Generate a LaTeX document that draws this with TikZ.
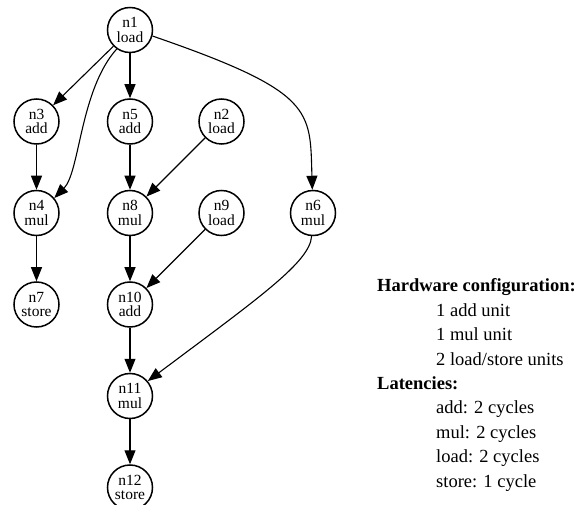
\documentclass[tikz,border=0pt]{standalone}
\usepackage{fontspec}
\setmainfont{Liberation Serif}
\usetikzlibrary{arrows.meta,positioning}

\begin{document}
\begin{tikzpicture}[
  x=1pt, y=-1pt,
  node distance=45pt and 45pt,
  op/.style={circle, draw, line width=1.5pt, minimum size=45pt, inner sep=0pt,
    align=center, font=\fontsize{15.5}{14.5}\selectfont},
  arr/.style={-{Triangle[length=14pt,width=11pt]}, line width=1.1pt},
  info/.style={align=left, anchor=base west, inner sep=0pt,
    font=\fontsize{18.5}{24.4}\selectfont}
]
\useasboundingbox (0,0) rectangle (584,505);
\node[op] (n1) at (130,30) {n1\\load};
\node[op, below=of n1] (n5) {n5\\add};
\node[op, left=47pt of n5] (n3) {n3\\add};
\node[op, right=of n5] (n2) {n2\\load};
\node[op, below=of n3] (n4) {n4\\mul};
\node[op, below=of n5] (n8) {n8\\mul};
\node[op, below=of n2] (n9) {n9\\load};
\node[op, right=of n9] (n6) {n6\\mul};
\node[op, below=of n4] (n7) {n7\\store};
\node[op, below=of n8] (n10) {n10\\add};
\node[op, below=of n10] (n11) {n11\\mul};
\node[op, below=of n11] (n12) {n12\\store};

% last line sits on the anchor
\node[info] (hw) at (377,487) {\textbf{Hardware configuration:}\\
  \hspace*{59pt}1 add unit\\
  \hspace*{59pt}1 mul unit\\
  \hspace*{59pt}2 load/store units\\
  \textbf{Latencies:}\\
  \hspace*{59pt}add: 2 cycles\\
  \hspace*{59pt}mul: 2 cycles\\
  \hspace*{59pt}load: 2 cycles\\
  \hspace*{59pt}store: 1 cycle};

\draw[arr] (n1) -- (n3);
\draw[arr] (n1) -- (n5);
\draw[arr] (n1.-125) .. controls (80,90) and (80,172) .. (n4.40);
\draw[arr] (n1.-15) .. controls (315,92) and (310,110) .. (n6);
\draw[arr] (n3) -- (n4);
\draw[arr] (n5) -- (n8);
\draw[arr] (n2) -- (n8);
\draw[arr] (n4) -- (n7);
\draw[arr] (n8) -- (n10);
\draw[arr] (n9) -- (n10);
\draw[arr] (n6) .. controls (310,262) and (260,297) .. (n11.40);
\draw[arr] (n10) -- (n11);
\draw[arr] (n11) -- (n12);
\end{tikzpicture}
\end{document}
